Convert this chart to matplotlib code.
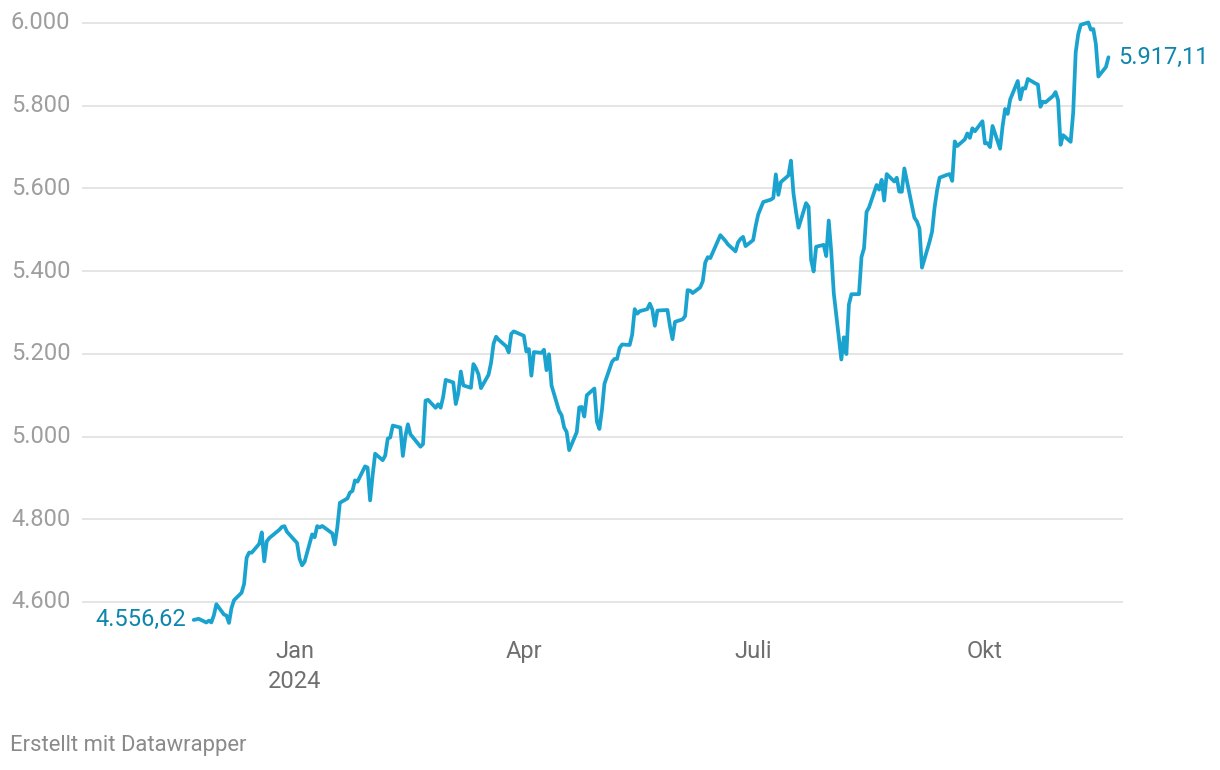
import matplotlib
matplotlib.use('Agg')
import matplotlib.pyplot as plt
import matplotlib.dates as mdates
import matplotlib.transforms as mtransforms
import pandas as pd

plt.rcParams['font.family'] = ['Roboto', 'DejaVu Sans']

# trading days 22.11.2023 - 19.11.2024 (US holidays removed)
holidays = ['2023-11-23', '2023-12-25', '2024-01-01', '2024-01-15', '2024-02-19',
            '2024-03-29', '2024-05-27', '2024-06-19', '2024-07-04', '2024-09-02']
dates = pd.bdate_range('2023-11-22', '2024-11-19')
dates = dates[~dates.isin(pd.to_datetime(holidays))]

values = [
    # Nov 2023
    4556.62, 4559.34, 4550.43, 4554.89, 4550.58, 4567.80,
    # Dez
    4594.63, 4569.78, 4567.18, 4549.34, 4585.59, 4604.37, 4622.44, 4643.70, 4707.09, 4719.55,
    4719.19, 4740.56, 4768.37, 4698.35, 4746.75, 4754.63, 4774.75, 4781.58, 4783.35, 4769.83,
    # Jan 2024
    4742.83, 4704.81, 4688.68, 4697.24, 4763.54, 4756.50, 4783.45, 4780.24, 4783.83, 4765.98,
    4739.21, 4780.94, 4839.81, 4850.43, 4864.60, 4868.55, 4894.16, 4890.97, 4927.93, 4924.97, 4845.65,
    # Feb
    4906.19, 4958.61, 4942.81, 4954.23, 4995.06, 4997.91, 5026.61, 5021.84, 4953.17, 5000.62,
    5029.73, 5005.57, 4975.51, 4981.80, 5087.03, 5088.80, 5069.53, 5078.18, 5069.76, 5096.27,
    # Mar
    5137.08, 5130.95, 5078.65, 5104.76, 5157.36, 5123.69, 5117.94, 5175.27, 5165.31, 5150.48,
    5117.09, 5149.42, 5178.51, 5224.62, 5241.53, 5234.18, 5218.19, 5203.58, 5248.49, 5254.35,
    # Apr
    5243.77, 5205.81, 5211.49, 5147.21, 5204.34, 5202.39, 5209.91, 5160.64, 5199.06, 5123.41, 5061.82,
    5051.41, 5022.21, 5011.12, 4967.23, 5010.60, 5070.55, 5071.63, 5048.42, 5099.96, 5116.17, 5035.69,
    # Mai
    5018.39, 5064.20, 5127.79, 5180.74, 5187.70, 5187.67, 5214.08, 5222.68, 5221.42, 5246.68, 5308.15,
    5297.10, 5303.27, 5308.13, 5321.41, 5307.01, 5267.84, 5304.72, 5306.04, 5266.95, 5235.48, 5277.51,
    # Jun
    5283.40, 5291.34, 5354.03, 5352.96, 5346.99, 5360.79, 5375.32, 5421.03, 5433.74, 5431.60,
    5473.23, 5487.03, 5473.17, 5464.62, 5447.87, 5469.30, 5477.90, 5482.87, 5460.48,
    # Jul
    5475.09, 5509.01, 5537.02, 5567.19, 5572.85, 5576.98, 5633.91, 5584.54, 5615.35, 5631.22, 5667.20,
    5588.27, 5544.59, 5505.00, 5564.41, 5555.74, 5427.13, 5399.22, 5459.10, 5463.54, 5436.44, 5522.30,
    # Aug
    5446.68, 5346.56, 5186.33, 5240.03, 5199.50, 5319.31, 5344.16, 5344.39, 5434.43, 5455.21, 5543.22,
    5554.25, 5608.25, 5597.12, 5620.85, 5570.64, 5634.61, 5616.84, 5625.80, 5592.18, 5591.96, 5648.40,
    # Sep
    5528.93, 5520.07, 5503.41, 5408.42, 5471.05, 5495.52, 5554.13, 5595.76, 5626.02, 5633.09,
    5634.58, 5618.26, 5713.64, 5702.55, 5718.57, 5732.93, 5722.26, 5745.37, 5738.17, 5762.48,
    # Okt
    5708.75, 5709.54, 5699.94, 5751.07, 5695.94, 5751.13, 5792.04, 5780.05, 5815.03, 5859.85, 5815.26, 5842.47,
    5841.47, 5864.67, 5853.98, 5851.20, 5797.42, 5809.86, 5808.12, 5823.52, 5832.92, 5813.67, 5705.45,
    # Nov
    5728.80, 5712.69, 5782.76, 5929.04, 5973.10, 5995.54, 6001.35, 5983.99, 5985.38, 5949.17,
    5870.62, 5893.62, 5917.11,
]

yticks = [4600, 4800, 5000, 5200, 5400, 5600, 5800, 6000]
ytick_labels = ['4.600', '4.800', '5.000', '5.200', '5.400', '5.600', '5.800', '6.000']
xtick_dates = ['2024-01-01', '2024-04-01', '2024-07-01', '2024-10-01']
xtick_labels = ['Jan\n2024', 'Apr', 'Juli', 'Okt']
start_label = '4.556,62'
end_label = '5.917,11'

LINE = '#1ba3d0'
LABEL = '#0e86ad'

W, H = 1220, 770
fig = plt.figure(figsize=(W / 100, H / 100), dpi=100)
# axes in pixel terms: x 82..1123, y 10..630
ax = fig.add_axes([82 / W, 1 - 630 / H, (1123 - 82) / W, 620 / H])

jan1 = mdates.date2num(pd.Timestamp('2024-01-01'))
pxday = 2.52
ax.set_xlim(jan1 - (294.5 - 82) / pxday, jan1 + (1123 - 294.5) / pxday)
pxval = 579 / 1400
ax.set_ylim(6000 - (630 - 23) / pxval, 6000 + (23 - 10) / pxval)

for v in yticks:
    ax.axhline(v, color='#e3e3e3', lw=1.3, zorder=1)
trans = mtransforms.blended_transform_factory(fig.transFigure, ax.transData)
for v, lab in zip(yticks, ytick_labels):
    ax.text(11 / W, v, lab, transform=trans, ha='left', va='center',
            fontsize=17, color='#9e9e9e')

ax.plot(dates, values, color=LINE, lw=2.7, solid_joinstyle='round',
        solid_capstyle='round', zorder=3, clip_on=False)

ax.annotate(start_label, (dates[0], values[0]), xytext=(-8, 0), textcoords='offset pixels',
            ha='right', va='center', fontsize=17, color=LABEL)
ax.annotate(end_label, (dates[-1], values[-1]), xytext=(10, 0), textcoords='offset pixels',
            ha='left', va='center', fontsize=17, color=LABEL)

ax.set_xticks(pd.to_datetime(xtick_dates))
ax.set_xticklabels(xtick_labels, fontsize=17, color='#6f6f6f', linespacing=1.4, va='top')
ax.tick_params(axis='x', length=0, pad=7)
ax.set_yticks([])
for s in ax.spines.values():
    s.set_visible(False)

fig.text(10 / W, 1 - 746 / H, 'Erstellt mit Datawrapper', ha='left', va='center',
         fontsize=15.8, color='#8a8a8a')

fig.savefig('out.png', dpi=100)
